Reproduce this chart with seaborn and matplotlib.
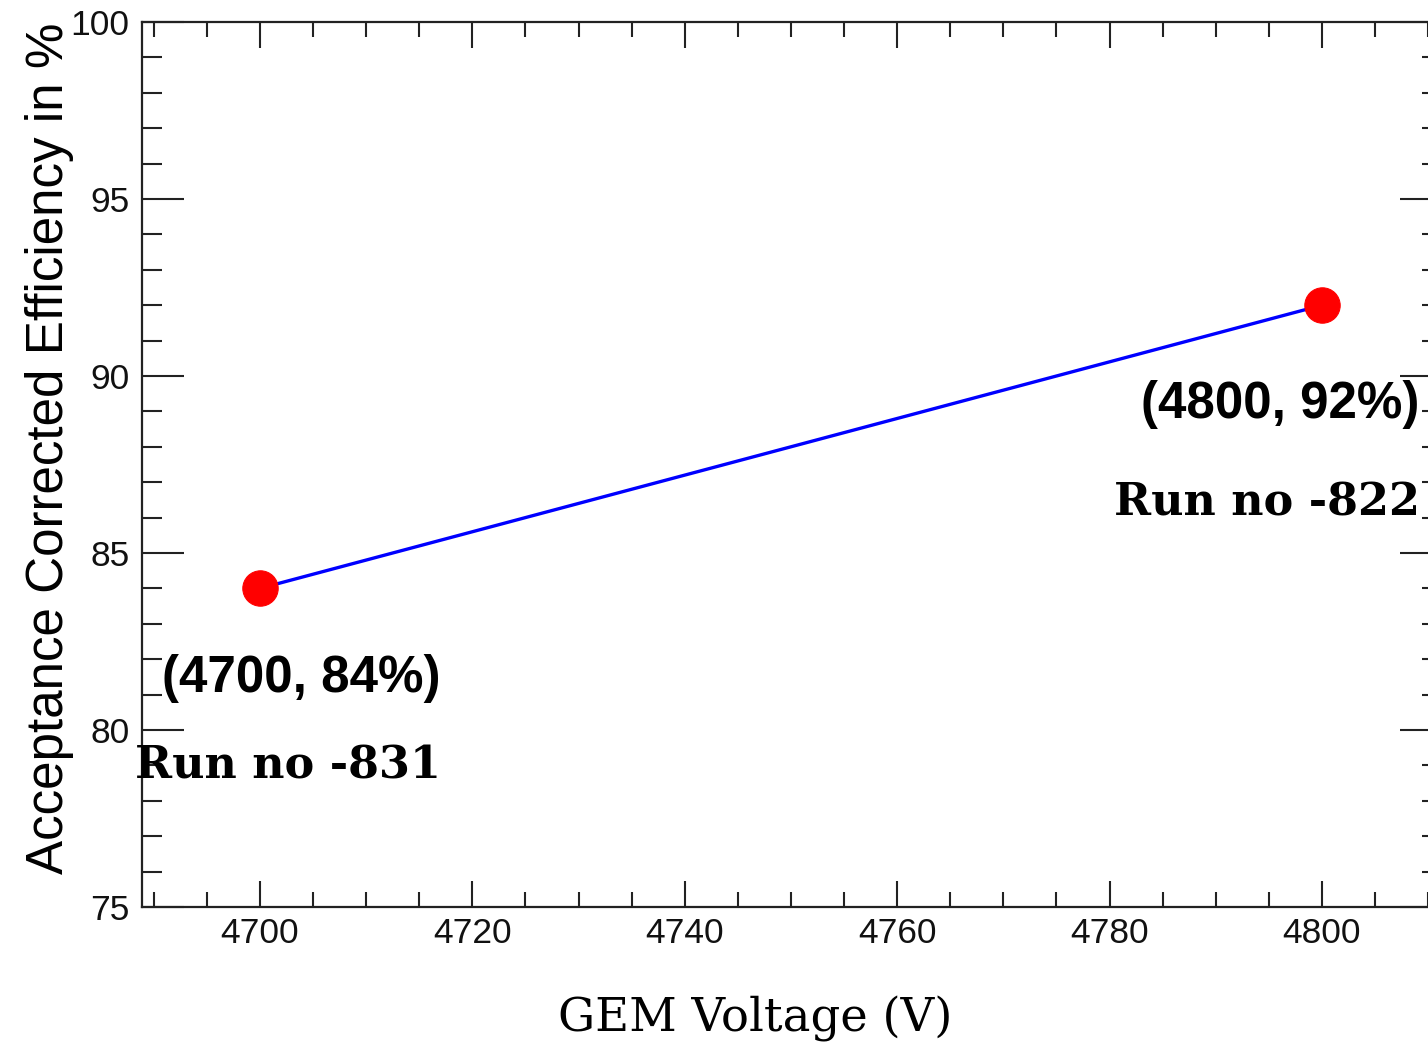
import matplotlib
matplotlib.use("Agg")
import matplotlib.pyplot as plt
import seaborn as sns
import pandas as pd
from matplotlib.ticker import MultipleLocator

# data
voltage = [4700, 4800]
efficiency = [84, 92]
point_labels = ["(4700, 84%)", "(4800, 92%)"]
run_labels = ["Run no -831", "Run no -822"]

df = pd.DataFrame({"voltage": voltage, "efficiency": efficiency})

sns.set_theme(style="ticks")
plt.rcParams["font.family"] = ["Liberation Sans", "DejaVu Sans"]
plt.rcParams["text.color"] = "black"
plt.rcParams["axes.labelcolor"] = "black"

fig = plt.figure(figsize=(14.28, 10.47), dpi=100)
ax = fig.add_axes([142 / 1428, 140 / 1047, 1300 / 1428, 885 / 1047])

sns.lineplot(data=df, x="voltage", y="efficiency", ax=ax, color="blue",
             linewidth=2.4, marker="o", markersize=25.5,
             markerfacecolor="red", markeredgecolor="red")

ax.set_xlim(4688.9, 4811.3)
ax.set_ylim(75, 100)

ax.xaxis.set_major_locator(MultipleLocator(20))
ax.xaxis.set_minor_locator(MultipleLocator(5))
ax.yaxis.set_major_locator(MultipleLocator(5))
ax.yaxis.set_minor_locator(MultipleLocator(1))

ax.tick_params(which="both", direction="in", top=True, right=True,
               width=1.5, color="#222222", labelcolor="#111111", labelsize=25.5)
ax.tick_params(axis="x", which="major", length=19, pad=7)
ax.tick_params(axis="x", which="minor", length=11)
ax.tick_params(axis="y", which="major", length=30, pad=9)
ax.tick_params(axis="y", which="minor", length=14.5)
for s in ax.spines.values():
    s.set_linewidth(1.6)
    s.set_color("#222222")

ax.set_xlabel("GEM Voltage (V)", family="DejaVu Serif", fontsize=33.5)
ax.xaxis.set_label_coords(0.4715, -0.1)
ax.set_ylabel("Acceptance Corrected Efficiency in %", fontsize=36.8, loc="top")
ax.yaxis.set_label_coords(-0.052, 1.0)

# point annotations
ax.text(4690.8, 81.45, point_labels[0], fontsize=36.8, fontweight="bold",
        ha="left", va="center")
ax.text(4809.2, 89.2, point_labels[1], fontsize=36.8, fontweight="bold",
        ha="right", va="center")
ax.text(4688.2, 78.62, run_labels[0], family="DejaVu Serif", fontsize=32,
        fontweight="bold", ha="left", va="baseline")
ax.text(4809.2, 86.07, run_labels[1], family="DejaVu Serif", fontsize=32,
        fontweight="bold", ha="right", va="baseline")

fig.savefig("out.png", dpi=100)
